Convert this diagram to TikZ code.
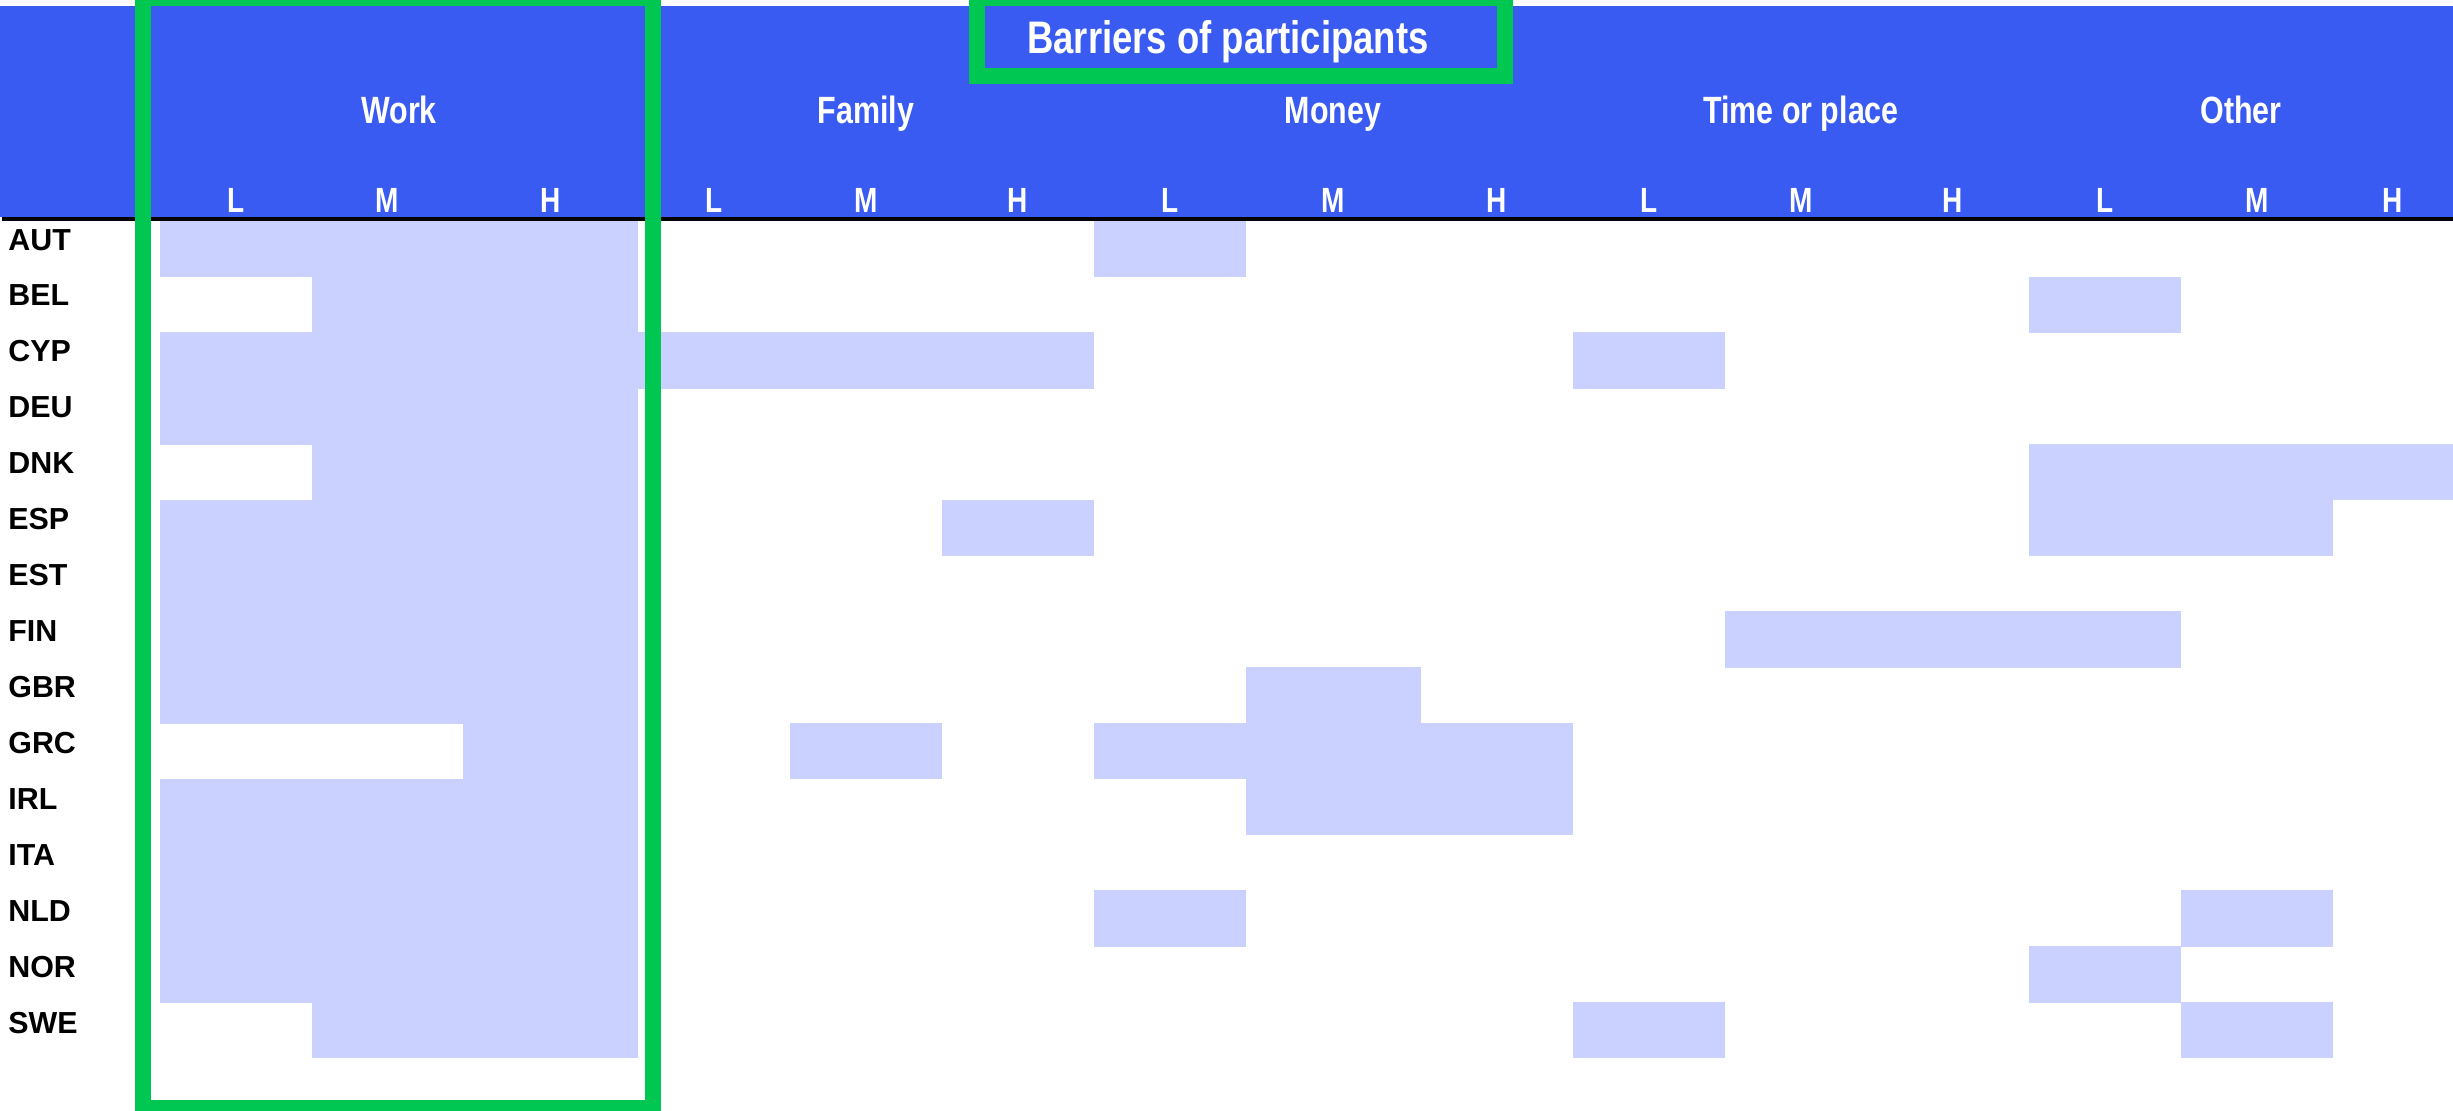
\documentclass[tikz,border=0pt]{standalone}
\usepackage{fontspec}
\setmainfont{Liberation Sans}
\newfontfamily\condfont[FakeStretch=0.8]{Liberation Sans}
\definecolor{hdrblue}{RGB}{58,91,241}
\definecolor{cellfill}{RGB}{203,209,254}
\definecolor{hlgreen}{RGB}{0,199,82}
\tikzset{
  grouplbl/.style={anchor=base,inner sep=0pt,text=white,font=\condfont\bfseries\fontsize{19pt}{19pt}\selectfont},
  levellbl/.style={anchor=base,inner sep=0pt,text=white,font=\condfont\bfseries\fontsize{17.5pt}{17.5pt}\selectfont},
  titlelbl/.style={anchor=base,inner sep=0pt,text=white,font=\condfont\bfseries\fontsize{22.8pt}{22.8pt}\selectfont},
  rowlbl/.style={anchor=base west,inner sep=0pt,text=black,font=\bfseries\fontsize{15.2pt}{15.2pt}\selectfont},
  hlbox/.style={draw=hlgreen,line width=8pt},
}
\newcommand\bcell[3]{\fill[cellfill] (#2,{220.7+55.8*#1}) rectangle (#3,{220.7+55.8*(#1+1)+0.6});}
\begin{document}
\begin{tikzpicture}[x=0.5pt,y=-0.5pt]
\useasboundingbox (0,0) rectangle (2453,1110);
\clip (0,0) rectangle (2453,1110);
\fill[white] (0,0) rectangle (2453,1110);
% header band
\fill[hdrblue] (0,6) rectangle (2453,216.7);
\draw[black,line width=2pt] (2,218.7) -- (2453,218.7);
% shaded cells: row, x start, x end
\bcell{0}{160}{638} \bcell{0}{1094}{1246}
\bcell{1}{312}{638} \bcell{1}{2029}{2181}
\bcell{2}{160}{1094} \bcell{2}{1573}{1725}
\bcell{3}{160}{638}
\bcell{4}{312}{638} \bcell{4}{2029}{2485}
\bcell{5}{160}{638} \bcell{5}{942}{1094} \bcell{5}{2029}{2333}
\bcell{6}{160}{638}
\bcell{7}{160}{638} \bcell{7}{1725}{2181}
\bcell{8}{160}{638} \bcell{8}{1246}{1421}
\bcell{9}{463}{638} \bcell{9}{790}{942} \bcell{9}{1094}{1573}
\bcell{10}{160}{638} \bcell{10}{1246}{1573}
\bcell{11}{160}{638}
\bcell{12}{160}{638} \bcell{12}{1094}{1246} \bcell{12}{2181}{2333}
\bcell{13}{160}{638} \bcell{13}{2029}{2181}
\bcell{14}{312}{638} \bcell{14}{1573}{1725} \bcell{14}{2181}{2333}
% title
\node[titlelbl] (title) at (1228,53) {Barriers of participants};
% group labels
\node[grouplbl] (gwork) at (399,123) {Work};
\node[grouplbl] (gfamily) at (866,123) {Family};
\node[grouplbl] (gmoney) at (1333,123) {Money};
\node[grouplbl] (gtime) at (1801,123) {Time or place};
\node[grouplbl] (gother) at (2241,123) {Other};
% level labels
\foreach \x/\t [count=\k] in {236/L,387.5/M,550.5/H,714/L,866/M,1018/H,1170/L,1333.5/M,1497/H,1649/L,1801/M,1953/H,2105/L,2257/M,2393/H}{
  \node[levellbl] (lv\k) at (\x,212) {\t};
}
% row labels
\foreach \t [count=\i from 0] in {AUT,BEL,CYP,DEU,DNK,ESP,EST,FIN,GBR,GRC,IRL,ITA,NLD,NOR,SWE}{
  \node[rowlbl] (r\i) at (8,{250+55.95*\i}) {\t};
}
% highlight frames
\draw[hlbox] (143,-2) rectangle (653,1108);
\draw[hlbox] (976.7,-2.2) rectangle (1505.2,75.8);
\end{tikzpicture}
\end{document}
